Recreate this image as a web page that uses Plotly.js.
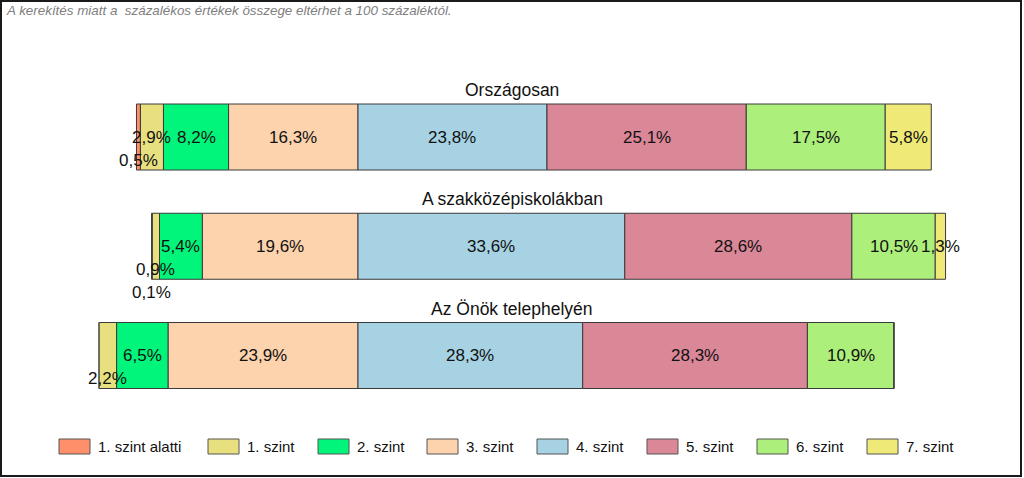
<!DOCTYPE html>
<html><head><meta charset="utf-8">
<script src="https://cdn.plot.ly/plotly-3.0.1.min.js"></script>
<style>html,body{margin:0;padding:0;background:#fff}#chart{width:1024px;height:478px}</style>
</head><body><div id="chart"></div>
<script>
// ---- data ----
const categories = ['Országosan', 'A szakközépiskolákban', 'Az Önök telephelyén'];
const levels = ['1. szint alatti', '1. szint', '2. szint', '3. szint', '4. szint', '5. szint', '6. szint', '7. szint'];
const levelBelow1 = [0.5, 0.1, 0];
const level1 = [2.9, 0.9, 2.2];
const level2 = [8.2, 5.4, 6.5];
const level3 = [16.3, 19.6, 23.9];
const level4 = [23.8, 33.6, 28.3];
const level5 = [25.1, 28.6, 28.3];
const level6 = [17.5, 10.5, 10.9];
const level7 = [5.8, 1.3, 0];
const note = 'A kerekítés miatt a\u00a0 százalékos értékek összege eltérhet a 100 százaléktól.';

// ---- styling ----
const series = [levelBelow1, level1, level2, level3, level4, level5, level6, level7];
const colors = ['#FF8F6B', '#E8E07F', '#00F57A', '#FDD3AD', '#A6D2E3', '#DA8798', '#ADEF7B', '#EFEA78'];
const splitIndex = 4; // bars are centred on the boundary between 3. and 4. szint
const labelNudge = { '0-0': -23, '0-1': -46, '1-1': -23, '1-2': -23 }; // "series-category": yshift px
const FONT = 'Liberation Sans, Arial, sans-serif';

const pxPerUnit = 7.94, zeroPx = 358, W = 1024, H = 478;
const rowPx = 109.25, firstRowPx = 137;

const leftSum = categories.map((c, i) => series.slice(0, splitIndex).reduce((a, s) => a + s[i], 0));

const traces = [];
const annotations = [];
series.forEach((vals, s) => {
  const bases = categories.map((c, i) => -leftSum[i] + series.slice(0, s).reduce((a, k) => a + k[i], 0));
  traces.push({
    type: 'bar', orientation: 'h', name: levels[s],
    y: categories, x: vals, base: bases,
    width: 66 / rowPx,
    marker: { color: colors[s], line: { color: '#3a3a3a', width: 1 } },
    hoverinfo: 'skip', showlegend: false
  });
  vals.forEach((v, i) => {
    if (v <= 0) return;
    annotations.push({
      x: bases[i] + v / 2, y: categories[i], xref: 'x', yref: 'y',
      text: v.toFixed(1).replace('.', ',') + '%', showarrow: false,
      font: { family: FONT, size: 17, color: '#111' },
      yshift: labelNudge[s + '-' + i] || 0
    });
  });
});

// subplot titles
categories.forEach((c, i) => {
  annotations.push({
    x: 0.5, xref: 'paper', y: i - 47 / rowPx, yref: 'y', yanchor: 'middle',
    text: c, showarrow: false, font: { family: FONT, size: 17.5, color: '#111' }
  });
});

// note
annotations.push({
  x: 4 / W, xref: 'paper', xanchor: 'left', y: 1 - 10 / H, yref: 'paper', yanchor: 'middle',
  text: '<i>' + note + '</i>', showarrow: false,
  font: { family: FONT, size: 13.4, color: '#808080' }
});

// custom legend
const legendX = [59, 208, 318, 427, 537, 647, 757, 867];
const shapes = [];
levels.forEach((l, s) => {
  shapes.push({
    type: 'rect', xref: 'paper', yref: 'paper',
    x0: legendX[s] / W, x1: (legendX[s] + 31) / W, y0: 1 - 454 / H, y1: 1 - 439 / H,
    fillcolor: colors[s], line: { color: '#555', width: 1 }
  });
  annotations.push({
    x: (legendX[s] + 37) / W, xref: 'paper', xanchor: 'left',
    y: 1 - 446.5 / H, yref: 'paper', yanchor: 'middle',
    text: l, showarrow: false, font: { family: FONT, size: 15, color: '#111' }
  });
});
// outer frame
shapes.push({
  type: 'rect', xref: 'paper', yref: 'paper', x0: 1 / W, x1: 1021 / W, y0: 1 - 476 / H, y1: 1 - 1 / H,
  line: { color: '#1a1a1a', width: 2 }, fillcolor: 'rgba(0,0,0,0)'
});

const yTop = -firstRowPx / rowPx;
const layout = {
  width: W, height: H,
  margin: { l: 0, r: 0, t: 0, b: 0, pad: 0 },
  paper_bgcolor: '#fff', plot_bgcolor: '#fff',
  barmode: 'overlay', showlegend: false,
  xaxis: { range: [-zeroPx / pxPerUnit, (W - zeroPx) / pxPerUnit], visible: false, fixedrange: true },
  yaxis: { type: 'category', range: [yTop + H / rowPx, yTop], visible: false, fixedrange: true },
  annotations: annotations, shapes: shapes
};
Plotly.newPlot('chart', traces, layout, { staticPlot: true });
</script>
</body></html>
